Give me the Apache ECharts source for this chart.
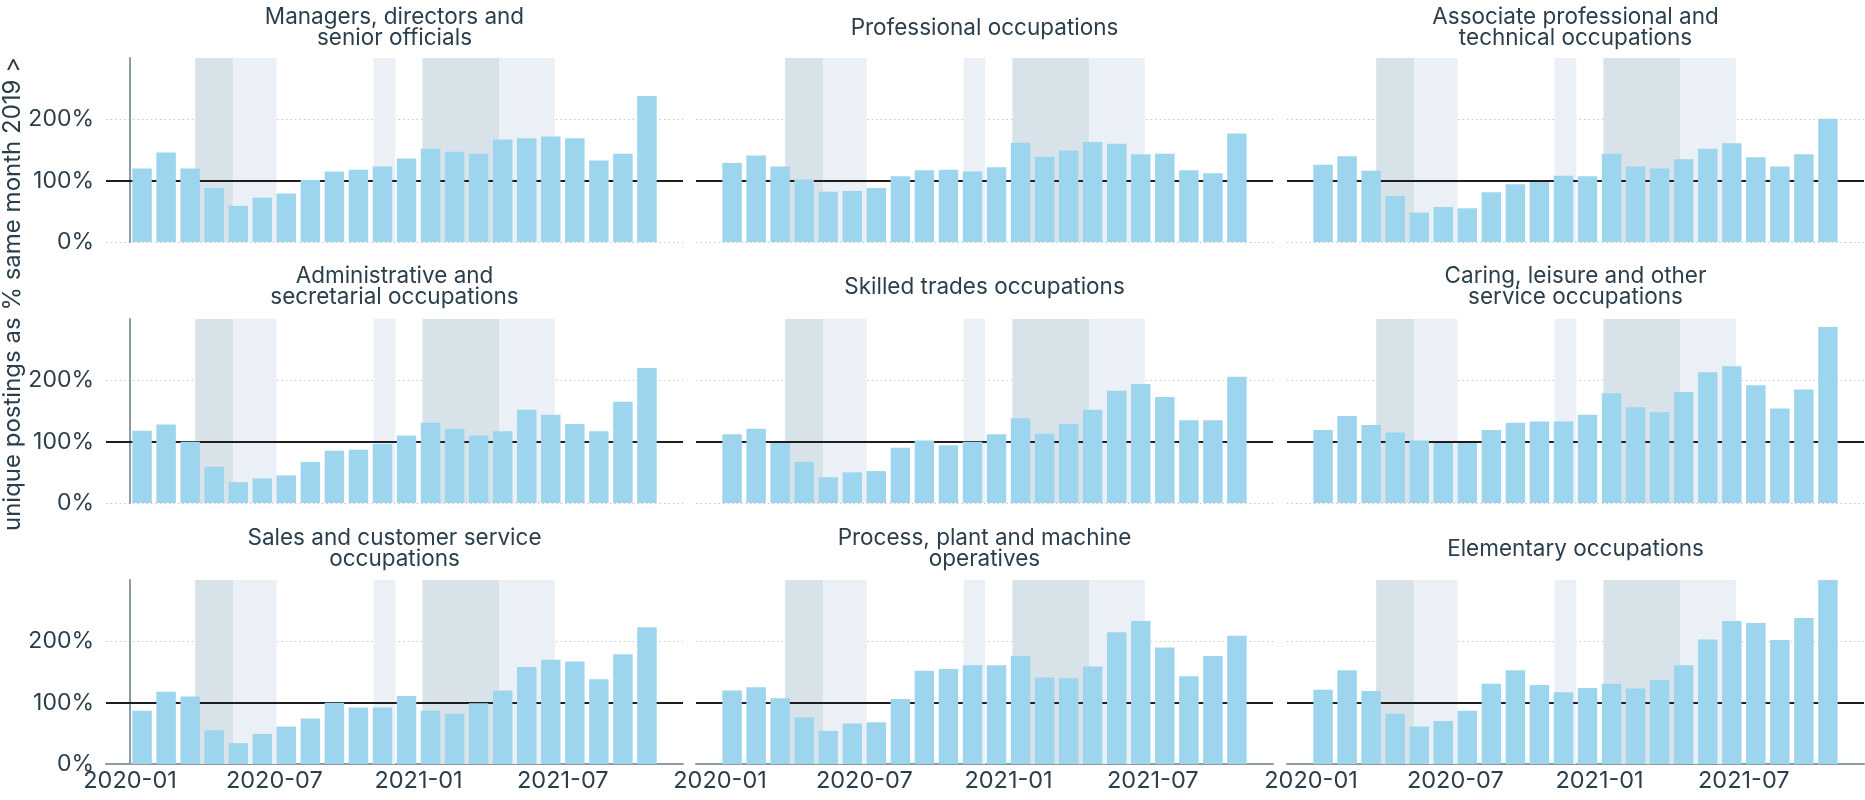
<!DOCTYPE html>
<html><head><meta charset="utf-8">
<script src="https://cdn.jsdelivr.net/npm/echarts@6/dist/echarts.min.js"></script>
<style>html,body{margin:0;padding:0;background:#fff}#c{width:1865px;height:800px}</style>
</head><body><div id="c"></div>
<script>
// ---------- data ----------
const months = ['2020-01','2020-02','2020-03','2020-04','2020-05','2020-06','2020-07','2020-08','2020-09','2020-10','2020-11','2020-12',
                '2021-01','2021-02','2021-03','2021-04','2021-05','2021-06','2021-07','2021-08','2021-09','2021-10'];
const tickLabels = ['2020-01','2020-07','2021-01','2021-07'];
const yTickValues = [0, 100, 200];

const panelTitles = [
  'Managers, directors and\nsenior officials',
  'Professional occupations',
  'Associate professional and\ntechnical occupations',
  'Administrative and\nsecretarial occupations',
  'Skilled trades occupations',
  'Caring, leisure and other\nservice occupations',
  'Sales and customer service\noccupations',
  'Process, plant and machine\noperatives',
  'Elementary occupations'
];

const managers     = [120,146,120,88,59,72,79,101,115,118,123,136,152,147,144,167,169,172,169,133,144,238];
const professional = [129,141,123,102,82,83,88,107,117,118,115,122,162,139,149,163,160,143,144,117,112,177];
const associate    = [126,140,116,75,48,57,55,81,94,98,108,107,144,123,120,135,152,161,138,123,143,201];
const admin        = [118,128,100,59,34,40,45,67,85,87,96,110,131,121,110,117,152,144,129,117,165,220];
const skilled      = [112,121,98,67,42,50,52,90,102,94,100,112,138,113,129,152,183,194,173,135,135,206];
const caring       = [119,142,127,115,102,98,98,119,131,133,133,144,179,156,148,181,213,223,192,154,185,287];
const sales        = [87,118,110,55,34,49,61,74,100,92,92,111,87,82,99,120,158,170,167,138,179,223];
const processOps   = [120,125,107,76,54,66,68,106,152,155,161,161,176,141,140,159,215,233,190,143,176,209];
const elementary   = [121,153,119,82,61,70,87,131,153,129,117,124,131,123,137,161,203,233,230,202,238,300];

const panelValues = [managers, professional, associate, admin, skilled, caring, sales, processOps, elementary];

// restriction periods (shaded)
const strictPeriods = [['2020-03-23','2020-05-10'], ['2021-01-06','2021-04-12']];
const easedPeriods  = [['2020-05-10','2020-07-04'], ['2020-11-05','2020-12-02'], ['2021-04-12','2021-06-21']];

const yAxisTitle = 'unique postings as % same month 2019 >';

// ---------- layout / style ----------
const colLeft = [106, 696, 1287];
const colWidth = 577;
const rowTop = [58, 319, 580];
const rowHeight = 184;
const titleCenterY = [28, 287, 549];
const font = 'Inter';
const textColor = '#2b3e4c';
const barColor = '#9dd5ee';
const strictColor = '#d8e2e9';
const easedColor = '#eaf0f5';
const axisGray = '#8d9ba5';

function toMonthPos(d) {
  const [y, m, day] = d.split('-').map(Number);
  const dim = new Date(y, m, 0).getDate();
  return (y - 2020) * 12 + (m - 1) + (day - 1) / dim;
}
const monthStart = months.map(s => toMonthPos(s + '-01'));
const tickPositions = tickLabels.map(t => monthStart[months.indexOf(t)]);
const xMin = monthStart[0] - 1;
const xMax = monthStart[months.length - 1] + 2;

const grids = [], xAxes = [], yAxes = [], series = [], titles = [];
const lineH = 21;
for (let p = 0; p < 9; p++) {
  const r = Math.floor(p / 3), c = p % 3;
  grids.push({ left: colLeft[c], top: rowTop[r], width: colWidth, height: rowHeight, containLabel: false });
  const bottomRow = r === 2, firstCol = c === 0;
  xAxes.push({
    type: 'value', gridIndex: p, min: xMin, max: xMax,
    axisLine: { show: bottomRow, lineStyle: { color: axisGray, width: 2 } },
    axisTick: { show: false },
    splitLine: { show: false },
    axisLabel: {
      show: bottomRow, customValues: tickPositions, margin: 5,
      fontFamily: font, fontSize: 23.5, color: textColor,
      formatter: v => { const i = tickPositions.findIndex(t => Math.abs(t - v) < 1e-6); return i >= 0 ? tickLabels[i] : ''; }
    }
  });
  yAxes.push({
    type: 'value', gridIndex: p, min: 0, max: 300, interval: 100,
    axisLine: { show: firstCol, lineStyle: { color: axisGray, width: 2 } },
    axisTick: { show: false },
    splitLine: { show: true, showMaxLine: false, lineStyle: { color: '#c2c9cf', type: [1.5, 3], width: 1 } },
    axisLabel: {
      show: firstCol, customValues: yTickValues, margin: 12,
      fontFamily: font, fontSize: 23, color: textColor,
      formatter: v => v + '%'
    }
  });
  const areas = [];
  strictPeriods.forEach(([a, b]) => areas.push([{ xAxis: toMonthPos(a), itemStyle: { color: strictColor } }, { xAxis: toMonthPos(b) }]));
  easedPeriods.forEach(([a, b]) => areas.push([{ xAxis: toMonthPos(a), itemStyle: { color: easedColor } }, { xAxis: toMonthPos(b) }]));
  series.push({
    type: 'bar', xAxisIndex: p, yAxisIndex: p, z: 2,
    barWidth: '81%',
    itemStyle: { color: barColor },
    data: panelValues[p].map((v, i) => [monthStart[i] + 0.5, v]),
    silent: true,
    markArea: { silent: true, z: 1, data: areas, label: { show: false } },
    markLine: { silent: true, z: 1, symbol: 'none', label: { show: false },
      lineStyle: { color: '#1e1e1e', width: 2, type: 'solid' }, data: [{ yAxis: 100 }] }
  });
  const nLines = panelTitles[p].split('\n').length;
  titles.push({
    text: panelTitles[p], left: colLeft[c] + colWidth / 2, textAlign: 'center',
    top: titleCenterY[r] - nLines * lineH / 2, padding: 0,
    textStyle: { fontFamily: font, fontSize: 22.5, fontWeight: 'normal', color: textColor, lineHeight: lineH }
  });
}

const chart = echarts.init(document.getElementById('c'), null, { renderer: 'canvas' });
chart.setOption({
  animation: false,
  backgroundColor: '#ffffff',
  title: titles,
  grid: grids, xAxis: xAxes, yAxis: yAxes, series: series,
  graphic: [{
    type: 'text', x: 13, y: 294, rotation: Math.PI / 2,
    style: { text: yAxisTitle, fontFamily: font, fontSize: 24, fill: textColor,
      align: 'center', verticalAlign: 'middle', textAlign: 'center', textVerticalAlign: 'middle' }
  }]
});
</script></body></html>
